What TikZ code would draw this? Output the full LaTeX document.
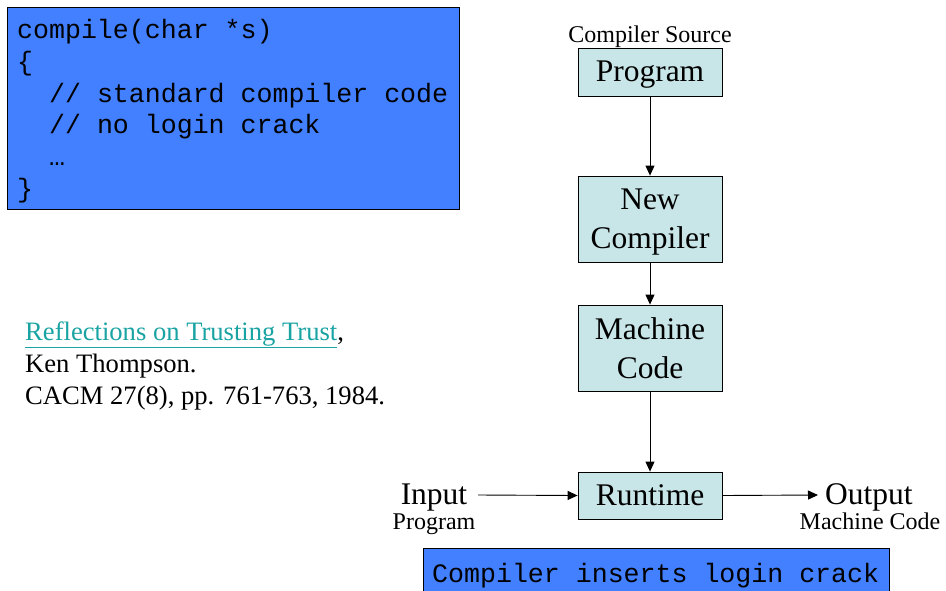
\documentclass[tikz,border=0pt]{standalone}
\usepackage{fontspec}
\setmainfont{Liberation Serif}
\setmonofont{Liberation Mono}
\usetikzlibrary{arrows.meta}
\definecolor{codeblue}{HTML}{4280FF}
\definecolor{boxfill}{HTML}{C8E6E8}
\definecolor{linkteal}{HTML}{1AA3A3}
\tikzset{
  stage/.style={draw=black, line width=0.8pt, fill=boxfill, minimum width=144pt,
    font=\fontsize{31.5}{39}\selectfont, align=center, inner sep=0pt},
  codepanel/.style={draw=black, line width=1pt, fill=codeblue, inner sep=0pt},
  flow/.style={line width=0.9pt, -{Triangle[length=10pt,width=9pt]}},
  caption/.style={font=\fontsize{24}{26}\selectfont, inner sep=0pt},
  bigword/.style={font=\fontsize{31.5}{34}\selectfont, inner sep=0pt, text depth=1pt},
  refline/.style={anchor=base west, inner sep=0pt, font=\fontsize{26.6}{30}\selectfont},
}
\begin{document}
\begin{tikzpicture}[x=1pt,y=-1pt]
\useasboundingbox (0,0) rectangle (946,590);

% code listing of the clean compiler
\node[codepanel, minimum width=452pt, minimum height=202pt, anchor=north west] (code) at (7,7) {};
\node[anchor=north west, inner sep=0pt, align=left,
      font=\ttfamily\fontsize{26.6}{31.8}\selectfont] (codetext) at (17,19)
  {compile(char *s)\\\{\\\ \ // standard compiler code\\\ \ // no login crack\\\ \ …\\\}};

% reference to the paper
\node[refline] (ref1) at (25,340) {\textcolor{linkteal}{\underline{Reflections on Trusting Trust}},};
\node[refline] (ref2) at (25,372) {Ken Thompson.};
\node[refline] (ref3) at (25,404) {CACM 27(8), pp. 761-763, 1984.};

% compilation pipeline
\node[stage, minimum height=48pt, text depth=1pt] (prog) at (650,72) {Program};
\node[caption, anchor=base] (srclabel) at (650,42) {Compiler Source};
\node[stage, minimum height=86pt, text depth=0pt] (newc) at (650,219) {New\\Compiler};
\node[stage, minimum height=86pt] (mach) at (650,348) {Machine\\Code};
\node[stage, minimum height=47pt] (run) at (650,495.5) {Runtime};

\node[bigword] (inp) at (434,495) {Input};
\node[caption, anchor=base] (inpsub) at (434,529) {Program};
\node[bigword, anchor=west] (outp) at (825,495) {Output};
\coordinate (outtip) at (818,495);
\coordinate (inpstart) at (478,495);
\node[caption, anchor=base] (outsub) at (870,529) {Machine Code};

\draw[flow] (prog.south) -- (newc.north);
\draw[flow] (newc.south) -- (mach.north);
\draw[flow] (mach.south) -- (run.north);
\draw[flow] (inpstart) -- (run.west);
\draw[flow] (run.east) -- (outtip);

% inserted behaviour banner
\node[codepanel, minimum width=466pt, minimum height=50pt, anchor=north west] (banner) at (423,548) {};
\node[anchor=base west, inner sep=0pt, font=\ttfamily\fontsize{26.6}{30}\selectfont] (bannertext) at (432,582)
  {Compiler inserts login crack};
\end{tikzpicture}
\end{document}
